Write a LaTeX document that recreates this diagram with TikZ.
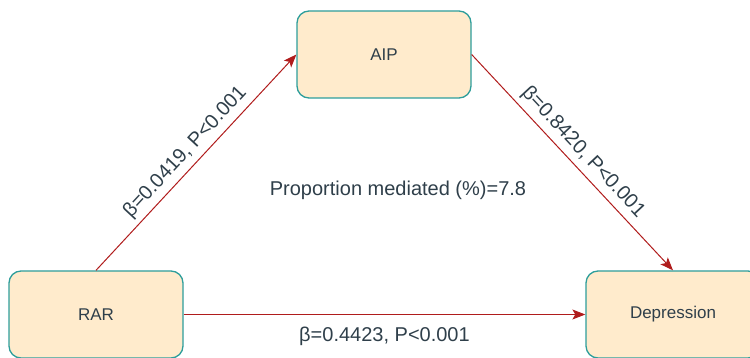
\documentclass[tikz,border=0pt]{standalone}
\usepackage{fontspec}
\setmainfont{Liberation Sans}
\usetikzlibrary{arrows.meta}
\definecolor{boxfill}{HTML}{FFEBCC}
\definecolor{boxline}{HTML}{2E9E9B}
\definecolor{arrowred}{HTML}{B01C1C}
\definecolor{textdark}{HTML}{2F3F4A}

\begin{document}
\begin{tikzpicture}[
  x=1pt, y=-1pt,
  block/.style={draw=boxline, fill=boxfill, line width=1.3pt, rounded corners=12pt, minimum width=174pt, minimum height=87pt, text=textdark, font=\fontsize{17}{20}\selectfont},
  wire/.style={-{Stealth[length=13pt, width=10pt, inset=3pt]}, draw=arrowred, line width=1pt},
  note/.style={text=textdark, font=\fontsize{20}{24}\selectfont}
]
\clip (0,0) rectangle (750,358);

\node[block] (aip) at (384,54.5) {AIP};
\node[block] (rar) at (96,314.5) {RAR};
\node[block] (dep) at (673,314.5) {Depression};

\draw[wire] (rar.north) -- node[midway, above, sloped, note, inner sep=5pt]{β=0.0419, P<0.001} (aip.west);
\draw[wire] (aip.east) -- node[midway, above, sloped, note, inner sep=5pt]{β=0.8420, P<0.001} (dep.north);
\draw[wire] (rar.east) -- node[midway, below, note, inner sep=5pt, yshift=-7pt]{β=0.4423, P<0.001} (dep.west);

\node[note] (prop) at (398,190) {Proportion mediated (\%)=7.8};

\end{tikzpicture}
\end{document}
